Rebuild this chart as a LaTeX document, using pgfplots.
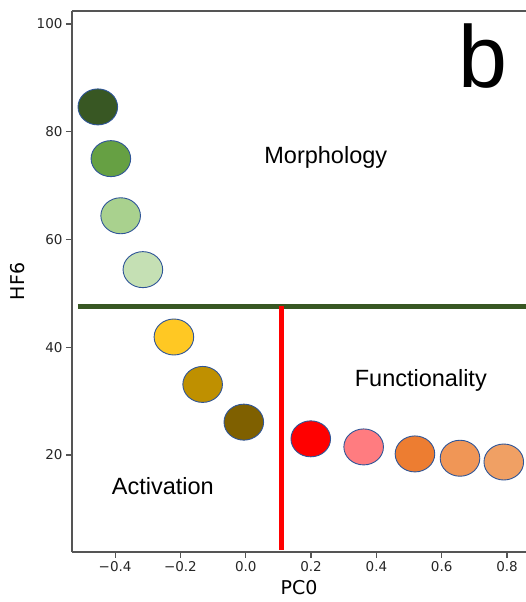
\documentclass[border=0pt]{standalone}
\usepackage{pgfplots}
\pgfplotsset{compat=1.18}
\usepackage{fontspec}
\setmainfont{Liberation Sans}
\newfontfamily\dejavu{DejaVu Sans}
\definecolor{axisgray}{HTML}{555555}
\definecolor{edgeblue}{HTML}{2F5597}
\definecolor{cA}{HTML}{385723}
\definecolor{cB}{HTML}{66A043}
\definecolor{cC}{HTML}{A9D18E}
\definecolor{cD}{HTML}{C5E0B4}
\definecolor{cE}{HTML}{FFC823}
\definecolor{cF}{HTML}{BF9000}
\definecolor{cG}{HTML}{7F6000}
\definecolor{cH}{HTML}{FF0000}
\definecolor{cI}{HTML}{FF7C80}
\definecolor{cJ}{HTML}{ED7D31}
\definecolor{cK}{HTML}{F09656}
\definecolor{cL}{HTML}{F0A064}
\pgfplotsset{pt/.style={only marks, mark=*, mark size=18pt, mark options={xscale=1.1, draw=edgeblue, line width=0.9pt, fill=#1}}}
\begin{document}
\begin{tikzpicture}
\begin{axis}[
  scale only axis, width=454pt, height=541pt,
  xmin=-0.532, xmax=0.858, ymin=2.0, ymax=102.4,
  axis y line*=left,
  xtick pos=left, ytick pos=left,
  tick align=outside, major tick length=6pt,
  every tick/.style={axisgray, line width=1.2pt},
  axis line style={axisgray, line width=1.3pt},
  xtick={-0.4,-0.2,0.0,0.2,0.4,0.6,0.8},
  xticklabels={−0.4,−0.2,0.0,0.2,0.4,0.6,0.8},
  ytick={20,40,60,80,100},
  yticklabels={20,40,60,80,100},
  ticklabel style={font=\dejavu\fontsize{13.5}{13.5}\selectfont, text=black!85},
  xlabel={PC0}, ylabel={HF6},
  xlabel style={font=\dejavu\fontsize{19}{19}\selectfont, at={(axis description cs:0.5,-0.0665)}, anchor=center},
  ylabel style={font=\dejavu\fontsize{19}{19}\selectfont, at={(axis description cs:-0.119,0.5)}, anchor=center},
  clip=false,
]
\addplot[pt=cA] coordinates {(-0.453,84.6)};
\addplot[pt=cB] coordinates {(-0.413,75.0)};
\addplot[pt=cC] coordinates {(-0.383,64.4)};
\addplot[pt=cD] coordinates {(-0.315,54.4)};
\addplot[pt=cE] coordinates {(-0.220,41.9)};
\addplot[pt=cF] coordinates {(-0.132,33.1)};
\addplot[pt=cG] coordinates {(-0.006,26.1)};
\addplot[pt=cH] coordinates {(0.199,23.0)};
\addplot[pt=cI] coordinates {(0.361,21.5)};
\addplot[pt=cJ] coordinates {(0.518,20.2)};
\addplot[pt=cK] coordinates {(0.656,19.4)};
\addplot[pt=cL] coordinates {(0.790,18.7)};
\addplot[sharp plot, no marks, draw=cA, line width=5pt] coordinates {(-0.514,47.6) (0.858,47.6)};
\addplot[sharp plot, no marks, draw=red, line width=4.5pt] coordinates {(0.110,47.6) (0.110,2.4)};
\node[font=\fontsize{23.5}{23.5}\selectfont] at (axis cs:0.245,75.2) {Morphology};
\node[font=\fontsize{23.5}{23.5}\selectfont] at (axis cs:0.536,33.9) {Functionality};
\node[font=\fontsize{23.5}{23.5}\selectfont] at (axis cs:-0.254,14.3) {Activation};
\node[font=\fontsize{88}{88}\selectfont, inner sep=0pt] at (axis cs:0.726,94.1) {b};
\end{axis}
\pgfresetboundingbox
\path[use as bounding box] (-72pt,-50pt) rectangle (453pt,552pt);
\end{tikzpicture}
\end{document}
